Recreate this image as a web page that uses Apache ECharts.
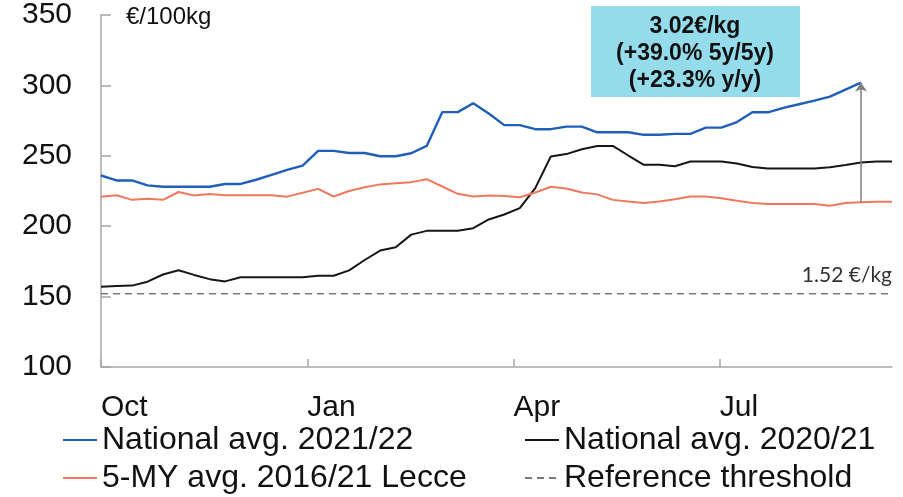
<!DOCTYPE html>
<html lang="en">
<head>
<meta charset="UTF-8">
<title>National avg. durum wheat price</title>
<script src="https://cdn.jsdelivr.net/npm/echarts@6/dist/echarts.min.js"></script>
<style>
    body { margin: 0; padding: 0; background: #fff; }
    #main { width: 903px; height: 497px; }
</style>
</head>
<body>
<div id="main"></div>
<script>
// weekly prices, €/100kg, week 0 = start of October
var natAvg2122 = [236, 232.5, 232.5, 229, 228, 228, 228, 228, 230, 230,
    233, 236.5, 240, 243, 253.5, 253.5, 252, 252, 249.7, 249.7,
    251.8, 257, 281, 281, 287.3, 280, 271.8, 271.8, 268.9, 268.9,
    270.7, 270.7, 266.7, 266.7, 266.7, 264.9, 264.9, 265.6, 265.6, 270,
    270, 274, 280.9, 280.9, 284, 286.6, 289.2, 292, 297, 302];
var natAvg2021 = [157, 157.5, 157.8, 160.6, 165.7, 168.7, 165.4, 162.4, 160.8, 163.7,
    163.7, 163.7, 163.7, 163.7, 164.8, 164.8, 168.6, 176, 182.7, 185,
    194, 196.7, 196.7, 196.7, 198.6, 204.8, 208.3, 212.8, 227, 249.5,
    251.2, 254.7, 257, 257, 250.2, 243.6, 243.6, 242.6, 246, 246,
    246, 244.5, 242, 241, 241, 241, 241, 241.8, 243.4, 245.2,
    246, 246];
var lecce5y = [221, 222, 218.7, 219.5, 218.7, 224.3, 221.8, 222.9, 222, 222,
    222, 222, 221, 223.7, 226.5, 221.1, 225, 227.7, 229.7, 230.5,
    231.3, 233.4, 228.2, 223, 221.1, 221.8, 221.5, 220.6, 223.9, 228,
    226.8, 224, 222.6, 218.7, 217.5, 216.4, 217.5, 219.2, 221.1, 221.1,
    219.9, 218, 216.4, 215.8, 215.8, 215.8, 215.8, 214.6, 216.4, 217,
    217.3, 217.3];
var threshold = 152;
var lastWeek = 51;
var monthTicks = [0, 13.3, 26.6, 39.9];
var monthLabels = ['Oct', 'Jan', 'Apr', 'Jul'];
var boxLines = ['3.02€/kg', '(+39.0% 5y/5y)', '(+23.3% y/y)'];

var font = '"Liberation Sans", Arial, sans-serif';

function toPoints(arr) {
    return arr.map(function (v, i) { return [i, v]; });
}

var chart = echarts.init(document.getElementById('main'));

function legendAt(name, left, top) {
    return {
        data: [name],
        left: left,
        top: top,
        padding: 0,
        itemWidth: 34,
        itemHeight: 12,
        selectedMode: false,
        itemStyle: { opacity: 0 },
        textStyle: { fontSize: 32, fontFamily: font, color: '#111' }
    };
}

var last = natAvg2122.length - 1;

var option = {
    animation: false,
    grid: { left: 101, right: 11, top: 15, bottom: 130 },
    legend: [
        legendAt('National avg. 2021/22', 62, 424),
        legendAt('National avg. 2020/21', 524, 424),
        legendAt('5-MY avg. 2016/21 Lecce', 62, 462),
        legendAt('Reference threshold', 524, 462)
    ],
    xAxis: {
        type: 'value',
        min: 0,
        max: lastWeek,
        splitLine: { show: false },
        axisLine: { lineStyle: { color: '#a6a6a6', width: 1.5 } },
        axisTick: {
            customValues: monthTicks,
            inside: true,
            length: 8,
            lineStyle: { color: '#a6a6a6', width: 1.5 }
        },
        axisLabel: {
            customValues: monthTicks,
            align: 'left',
            margin: 26,
            fontSize: 30,
            fontFamily: font,
            color: '#111',
            formatter: function (v) {
                for (var i = 0; i < monthTicks.length; i++) {
                    if (Math.abs(monthTicks[i] - v) < 0.01) return monthLabels[i];
                }
                return '';
            }
        }
    },
    yAxis: {
        type: 'value',
        min: 100,
        max: 350,
        interval: 50,
        name: '€/100kg',
        nameLocation: 'end',
        nameGap: -2,
        nameTextStyle: {
            fontSize: 24, fontFamily: font, color: '#111',
            align: 'left', verticalAlign: 'middle', padding: [0, 0, 0, 25]
        },
        splitLine: { show: false },
        axisLine: { show: true, lineStyle: { color: '#a6a6a6', width: 1.5 } },
        axisTick: { show: true, inside: true, length: 10, lineStyle: { color: '#a6a6a6', width: 1.5 } },
        axisLabel: { fontSize: 30, fontFamily: font, color: '#111', margin: 29 }
    },
    series: [
        {
            name: 'National avg. 2021/22',
            type: 'line',
            data: toPoints(natAvg2122),
            symbol: 'none',
            z: 4,
            color: '#1f5fb8',
            lineStyle: { width: 2.4, color: '#1f5fb8' },
            markLine: {
                silent: true,
                symbol: ['none', 'arrow'],
                symbolSize: 9,
                label: { show: false },
                lineStyle: { color: '#7f7f7f', width: 1.5, type: 'solid' },
                data: [[
                    { coord: [last, lecce5y[last]] },
                    { coord: [last, natAvg2122[last]] }
                ]]
            }
        },
        {
            name: 'National avg. 2020/21',
            type: 'line',
            data: toPoints(natAvg2021),
            symbol: 'none',
            z: 3,
            color: '#161616',
            lineStyle: { width: 2, color: '#161616' }
        },
        {
            name: '5-MY avg. 2016/21 Lecce',
            type: 'line',
            data: toPoints(lecce5y),
            symbol: 'none',
            z: 3,
            color: '#f0785f',
            lineStyle: { width: 2, color: '#f0785f' }
        },
        {
            name: 'Reference threshold',
            type: 'line',
            symbol: 'none',
            z: 2,
            color: '#7a7a7a',
            lineStyle: { width: 1.5, color: '#7a7a7a', type: [7, 5] },
            data: [[0, threshold], [lastWeek, threshold]],
            markPoint: {
                silent: true,
                symbol: 'circle',
                symbolSize: 1,
                itemStyle: { color: 'rgba(0,0,0,0)' },
                label: {
                    show: true,
                    position: 'top',
                    align: 'right',
                    distance: 8,
                    formatter: (threshold / 100).toFixed(2) + ' €/kg',
                    fontSize: 21,
                    fontFamily: 'Lato, "Open Sans", sans-serif',
                    color: '#333'
                },
                data: [{ coord: [lastWeek, threshold] }]
            }
        }
    ],
    graphic: [
        {
            type: 'rect',
            left: 591,
            top: 6,
            shape: { width: 209, height: 91 },
            style: { fill: '#94dcec' },
            z: 10
        },
        {
            type: 'text',
            x: 695,
            y: 54,
            z: 11,
            style: {
                text: boxLines.join('\n'),
                font: 'bold 23px ' + font,
                fill: '#111',
                align: 'center',
                verticalAlign: 'middle',
                lineHeight: 27
            }
        }
    ]
};

chart.setOption(option);
</script>
</body>
</html>
